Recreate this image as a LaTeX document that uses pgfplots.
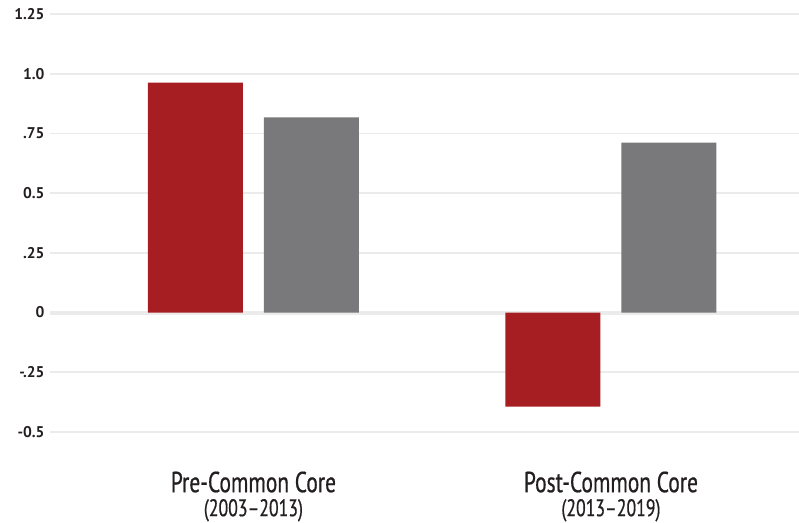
\documentclass[border=0pt]{standalone}
\usepackage{pgfplots}
\pgfplotsset{compat=1.18}
\usepackage{fontspec}
\setmainfont{PT Sans}
\newfontfamily\condfont[FakeStretch=0.74,FakeBold=0.6,Ligatures=TeX]{PT Sans}
\newfontfamily\tickfont{PT Sans}
\definecolor{barred}{HTML}{A61E22}
\definecolor{bargray}{HTML}{79797B}
\definecolor{gridc}{HTML}{EBEBEB}
\definecolor{txt}{HTML}{231F20}
\begin{document}
\begin{tikzpicture}
\path[use as bounding box] (-50bp,-91bp) rectangle (749bp,432bp);
\begin{axis}[
  at={(0,0)}, anchor=south west,
  scale only axis, width=749bp, height=418bp,
  xmin=-0.569, xmax=1.526, ymin=-0.5, ymax=1.25,
  ybar=21bp, bar width=95bp,
  axis line style={draw=none}, tick style={draw=none},
  major tick length=0pt,
  ytick={-0.5,-0.25,0,0.25,0.5,0.75,1.0,1.25},
  yticklabels={-0.5,-.25,0,.25,0.5,.75,1.0,1.25},
  yticklabel style={font=\tickfont\bfseries\fontsize{15.5bp}{18bp}\selectfont, text=txt, anchor=east, xshift=-2bp},
  ymajorgrids, major grid style={gridc, line width=1.6bp},
  xtick={0,1},
  xticklabels={{Pre-Common Core\\{\fontsize{24bp}{24bp}\selectfont (2003–2013)}},
               {Post-Common Core\\{\fontsize{24bp}{24bp}\selectfont (2013–2019)}}},
  xticklabel style={align=center, text=txt, anchor=north, yshift=-36bp,
    font=\condfont\fontsize{29bp}{24bp}\selectfont},
]
\draw[gridc, line width=4bp] (axis cs:-0.569,0) -- (axis cs:1.526,0);
\addplot[fill=barred, draw=none] coordinates {(0,0.963) (1,-0.394)};
\addplot[fill=bargray, draw=none] coordinates {(0,0.817) (1,0.712)};
\end{axis}
\end{tikzpicture}
\end{document}
